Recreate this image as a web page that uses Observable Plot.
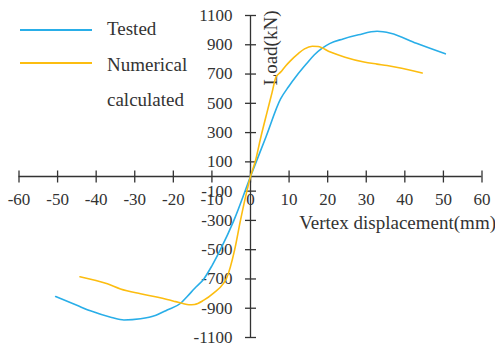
<!DOCTYPE html>
<html>
<head>
<meta charset="utf-8">
<script src="https://cdn.jsdelivr.net/npm/d3@7"></script>
<script src="https://cdn.jsdelivr.net/npm/@observablehq/plot@0.6"></script>
<style>
  html, body { margin: 0; padding: 0; background: #fff; }
  #wrap { position: relative; width: 495px; height: 344px; }
  #legend { position: absolute; left: 0; top: 0; }
  svg text { font-family: "Liberation Serif", "Times New Roman", serif !important; }
</style>
</head>
<body>
<div id="wrap"></div>
<script>
// Load–displacement curves (displacement in mm, load in kN)
const testedX = [-50.5, -45, -41.5, -36, -32.8, -28.5, -24.5, -21.6, -18.1, -16.4, -14.5, -12.1, -10, -7.8, -4.3, 0,
                 4, 7.8, 9.9, 12, 14.5, 16.5, 18.5, 20.5, 24, 28, 32.8, 36.3, 43, 50.5];
const testedY = [-820, -880, -918, -963, -980, -972, -948, -912, -866, -820, -765, -700, -610, -500, -300, 0,
                 270, 530, 615, 690, 770, 830, 875, 908, 940, 968, 992, 979, 910, 838];

const numericalX = [-44.2, -37.1, -33.7, -28.5, -24, -21.6, -19.4, -17.5, -16, -14.5, -12.1, -9.5, -7, -6.2, -4.1, -2.6, -1.3, 0,
                    1.3, 2.6, 4.3, 5.6, 6.6, 7.8, 9.1, 10.4, 12.3, 14, 16, 17.5, 20.7, 24.5, 29.4, 32.8, 35.4, 44.5];
const numericalY = [-685, -733, -768, -801, -825, -840, -855, -868, -876, -874, -845, -795, -730, -695, -500, -300, -141, 0,
                    109, 260, 440, 575, 680, 713, 755, 792, 838, 872, 890, 888, 850, 815, 782, 768, 758, 707];

const xTicks = [-60, -50, -40, -30, -20, -10, 0, 10, 20, 30, 40, 50, 60];
const yTicks = [-1100, -900, -700, -500, -300, -100, 100, 300, 500, 700, 900, 1100];

const seriesNames = ["Tested", "Numerical calculated"];
const seriesColors = ["#29aee8", "#fcbd10"];

const tested = testedX.map((x, i) => ({x, y: testedY[i]}));
const numerical = numericalX.map((x, i) => ({x, y: numericalY[i]}));

const ink = "#333";
const serif = "Liberation Serif";

// Short line symbols used as tick marks crossing the axes
const vTick = {draw(ctx, size) { const h = Math.sqrt(size / Math.PI); ctx.moveTo(0, -h); ctx.lineTo(0, h); }};
const hTick = {draw(ctx, size) { const h = Math.sqrt(size / Math.PI); ctx.moveTo(-h, 0); ctx.lineTo(h, 0); }};

const chart = Plot.plot({
  width: 495,
  height: 344,
  marginLeft: 18.5,
  marginRight: 13.5,
  marginTop: 15,
  marginBottom: 7,
  x: {domain: [-60, 60], axis: null},
  y: {domain: [-1100, 1100], axis: null},
  style: {background: "white", color: ink, fontFamily: serif, fontSize: "17px"},
  marks: [
    // axes through the origin
    Plot.ruleY([0], {stroke: ink, strokeWidth: 1.3}),
    Plot.ruleX([0], {stroke: ink, strokeWidth: 1.3}),
    Plot.dot(xTicks, {x: d => d, y: 0, symbol: vTick, r: 6, fill: "none", stroke: ink, strokeWidth: 1.3}),
    Plot.dot(yTicks, {x: 0, y: d => d, symbol: hTick, r: 5.5, fill: "none", stroke: ink, strokeWidth: 1.3}),
    Plot.text(xTicks, {x: d => d, y: 0, text: d => String(d), dy: 23, fill: ink, fontSize: 17, fontFamily: serif}),
    Plot.text(yTicks, {x: 0, y: d => d, text: d => String(d), dx: -18, textAnchor: "end", fill: ink, fontSize: 17, fontFamily: serif}),
    // axis titles
    Plot.text(["Vertex displacement(mm)"], {x: 60, y: 0, text: d => d, dx: 14, dy: 46, textAnchor: "end", fill: ink, fontSize: 19, fontFamily: serif}),
    Plot.text(["Load(kN)"], {x: 0, y: 1100, text: d => d, dx: 20, dy: -5, rotate: -90, textAnchor: "end", fill: ink, fontSize: 19, fontFamily: serif}),
    // curves
    Plot.line(tested, {x: "x", y: "y", stroke: seriesColors[0], strokeWidth: 1.6, curve: "monotone-x"}),
    Plot.line(numerical, {x: "x", y: "y", stroke: seriesColors[1], strokeWidth: 1.6, curve: "monotone-x"})
  ]
});

const wrap = document.getElementById("wrap");
wrap.appendChild(chart);

// Legend overlaid in the upper-left corner
const ns = "http://www.w3.org/2000/svg";
const leg = document.createElementNS(ns, "svg");
leg.setAttribute("id", "legend");
leg.setAttribute("width", 200);
leg.setAttribute("height", 120);
const rows = [
  {lineY: 30, lines: [{text: "Tested", y: 31}]},
  {lineY: 63, lines: [{text: "Numerical", y: 67}, {text: "calculated", y: 102}]}
];
rows.forEach((row, i) => {
  const l = document.createElementNS(ns, "line");
  l.setAttribute("x1", 20); l.setAttribute("x2", 92);
  l.setAttribute("y1", row.lineY); l.setAttribute("y2", row.lineY);
  l.setAttribute("stroke", seriesColors[i]); l.setAttribute("stroke-width", 2);
  leg.appendChild(l);
  row.lines.forEach(t => {
    const tx = document.createElementNS(ns, "text");
    tx.setAttribute("x", 107); tx.setAttribute("y", t.y);
    tx.setAttribute("dominant-baseline", "middle");
    tx.setAttribute("font-size", 19);
    tx.setAttribute("fill", ink);
    tx.textContent = t.text;
    leg.appendChild(tx);
  });
});
wrap.appendChild(leg);
</script>
</body>
</html>
